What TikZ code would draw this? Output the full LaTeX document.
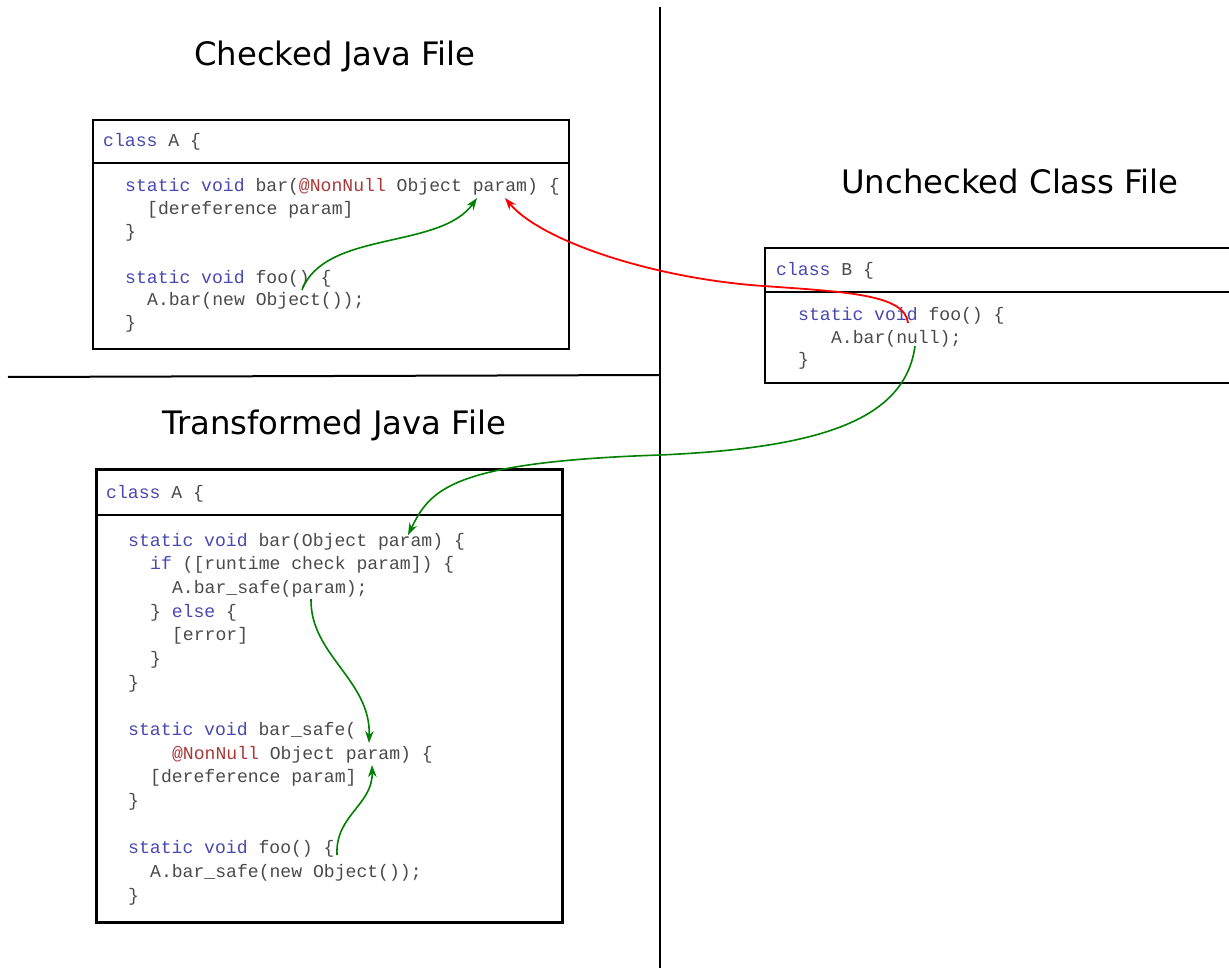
\documentclass[tikz,border=0pt]{standalone}
\usepackage{fontspec}
\usetikzlibrary{arrows.meta}
\newfontfamily\codefont{Liberation Mono}
\newfontfamily\headfont{DejaVu Sans}
\definecolor{kwblue}{HTML}{4848B0}
\definecolor{annred}{HTML}{A83838}
\definecolor{codegray}{HTML}{4A4A4A}
\definecolor{arrgreen}{HTML}{008000}
\definecolor{arrred}{HTML}{FF0000}
\newcommand{\jkw}[1]{\textcolor{kwblue}{#1}}
\newcommand{\jann}[1]{\textcolor{annred}{#1}}
\begin{document}
\begin{tikzpicture}[x=1pt,y=-1pt,
  code/.style={font=\codefont\fontsize{18.1}{22}\selectfont, text=codegray, anchor=base west, inner sep=0pt},
  heading/.style={font=\headfont\fontsize{32.3}{36}\selectfont, anchor=base, inner sep=0pt},
  frame/.style={draw=black, line width=2pt, anchor=north west, inner sep=0pt},
  divider/.style={draw=black, line width=1.8pt},
  sep/.style={draw=black, line width=2pt},
  flowg/.style={draw=arrgreen, line width=1.6pt, -{Stealth[length=12pt,width=8.5pt]}},
  flowr/.style={draw=arrred, line width=1.8pt, -{Stealth[length=12pt,width=8.5pt]}}]
\useasboundingbox (0,0) rectangle (1229,968);

% separators
\coordinate (vtop) at (660,7);
\coordinate (vbot) at (660,968);
\coordinate (hl) at (8,377);
\coordinate (hr) at (660,375);
\draw[sep] (vtop) -- (vbot);
\draw[sep] (hl) -- (hr);

% headings
\node[heading] (h1) at (335,66) {Checked Java File};
\node[heading] (h2) at (1010,194) {Unchecked Class File};
\node[heading] (h3) at (334,434) {Transformed Java File};

% box A (checked)
\node[frame, minimum width=476pt, minimum height=229pt] (boxA) at (92,119) {};
\draw[divider] (boxA.west |- 0,163) -- (boxA.east |- 0,163);
\node[code] (a0) at (103,147) {\jkw{class} A \{};
\node[code] (a1) at (125,192) {\jkw{static} \jkw{void} bar(\jann{@NonNull} Object param) \{};
\node[code] (a2) at (146.96,214.8) {[dereference param]};
\node[code] (a3) at (125,237.6) {\}};
\node[code] (a4) at (125,283.2) {\jkw{static} \jkw{void} foo() \{};
\node[code] (a5) at (146.96,306) {A.bar(new Object());};
\node[code] (a6) at (125,328.8) {\}};

% box B (unchecked)
\node[frame, minimum width=476pt, minimum height=135pt] (boxB) at (764,247) {};
\draw[divider] (boxB.west |- 0,292) -- (boxB.east |- 0,292);
\node[code] (b0) at (776,276) {\jkw{class} B \{};
\node[code] (b1) at (798,321) {\jkw{static} \jkw{void} foo() \{};
\node[code] (b2) at (830.9,343) {A.bar(null);};
\node[code] (b3) at (798,366) {\}};

% box C (transformed)
\node[frame, line width=3pt, minimum width=466pt, minimum height=453pt] (boxC) at (95,468) {};
\draw[divider] (boxC.west |- 0,515) -- (boxC.east |- 0,515);
\node[code] (c0) at (106,498) {\jkw{class} A \{};
\node[code] (c1) at (128,546) {\jkw{static} \jkw{void} bar(Object param) \{};
\node[code] (c2) at (149.96,569.67) {\jkw{if} ([runtime check param]) \{};
\node[code] (c3) at (171.92,593.34) {A.bar\_safe(param);};
\node[code] (c4) at (149.96,617) {\} \jkw{else} \{};
\node[code] (c5) at (171.92,640.7) {[error]};
\node[code] (c6) at (149.96,664.35) {\}};
\node[code] (c7) at (128,688) {\}};
\node[code] (c8) at (128,735.4) {\jkw{static} \jkw{void} bar\_safe(};
\node[code] (c9) at (171.92,759) {\jann{@NonNull} Object param) \{};
\node[code] (c10) at (149.96,782.7) {[dereference param]};
\node[code] (c11) at (128,806.4) {\}};
\node[code] (c12) at (128,853.7) {\jkw{static} \jkw{void} foo() \{};
\node[code] (c13) at (149.96,877.4) {A.bar\_safe(new Object());};
\node[code] (c14) at (128,901.05) {\}};

% connectors
\coordinate (g1s) at (302,290);
\coordinate (g1e) at (477,198);
\draw[flowg] (g1s) .. controls (325,230) and (440,250) .. (g1e);

\coordinate (rs) at (908,323);
\coordinate (rm) at (763,286);
\coordinate (re) at (505,198);
\draw[flowr] (rs) .. controls (905,295) and (850,292) .. (rm) .. controls (650,278) and (540,240) .. (re);

\coordinate (g3s) at (915,346);
\coordinate (g3m) at (660,455);
\coordinate (g3e) at (408,535);
\draw[flowg] (g3s) .. controls (905,420) and (820,448) .. (g3m) .. controls (450,462) and (430,490) .. (g3e);

\coordinate (g4s) at (311,599);
\coordinate (g4e) at (369,743);
\draw[flowg] (g4s) .. controls (310,655) and (371,680) .. (g4e);

\coordinate (g5s) at (337,855);
\coordinate (g5e) at (372,765);
\draw[flowg] (g5s) .. controls (335,815) and (373,805) .. (g5e);
\end{tikzpicture}
\end{document}
